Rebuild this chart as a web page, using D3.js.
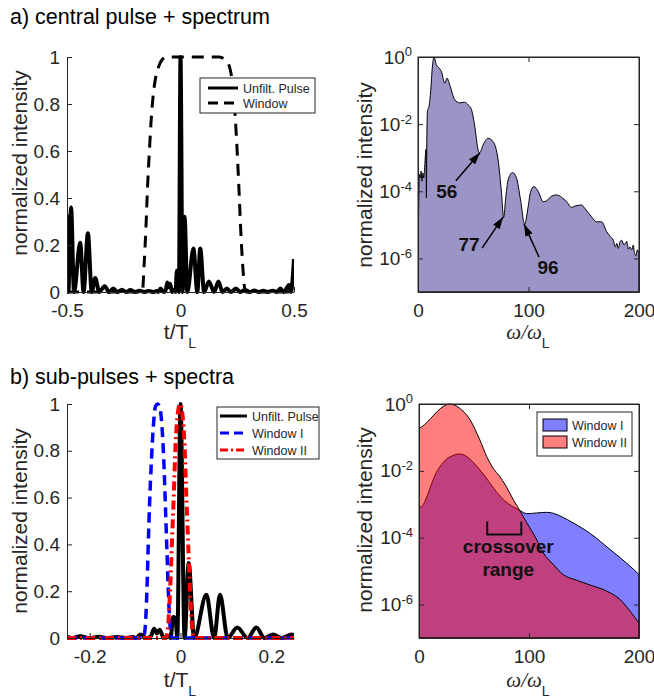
<!DOCTYPE html>
<html>
<head>
<meta charset="utf-8">
<script src="https://cdn.jsdelivr.net/npm/d3@7"></script>
<style>
body { margin: 0; background: #fff; }
svg { display: block; font-family: "Liberation Sans", Arial, sans-serif; }
</style>
</head>
<body>
<svg id="fig" width="654" height="698"></svg>
<script>
// ---- data ----
// unfiltered pulse, one period (t/T_L, normalized intensity)
var pulseT = [-0.500,-0.494,-0.482,-0.469,-0.442,-0.427,-0.408,-0.391,-0.376,-0.358,-0.334,-0.315,-0.296,-0.278,-0.258,-0.240,-0.221,-0.200,-0.180,-0.160,-0.140,-0.120,-0.105,-0.098,-0.088,-0.075,-0.066,-0.058,-0.052,-0.046,-0.037,-0.028,-0.022,-0.016,-0.011,-0.007,0.000,0.009,0.018,0.030,0.057,0.074,0.087,0.104,0.125,0.148,0.167,0.185,0.204,0.222,0.245,0.262,0.285,0.305,0.325,0.345,0.365,0.385,0.405,0.425,0.440,0.455,0.470,0.478,0.486,0.500];
var pulseI = [0.33,0,0.36,0,0.21,0,0.25,0,0.06,0,0.025,0,0.015,0,0.01,0,0.008,0,0.005,0,0.004,0,0.004,0,0.015,0,0.005,0.04,0.02,0.035,0,0.01,0,0.09,0.085,0,1.00,0,0.32,0,0.185,0,0.185,0,0.045,0,0.045,0,0.015,0,0.015,0,0.008,0,0.006,0,0.005,0,0.005,0,0.015,0,0.02,0.03,0,0.14];

// central window (panel a)
var windowT = [-0.5,-0.168,-0.160,-0.152,-0.145,-0.137,-0.130,-0.120,-0.108,-0.096,-0.080,-0.060,0.170,0.200,0.218,0.230,0.240,0.248,0.257,0.266,0.275,0.286,0.5];
var windowI = [0,0,0.12,0.28,0.45,0.6,0.72,0.84,0.92,0.96,0.99,1,1,0.985,0.95,0.88,0.76,0.63,0.45,0.25,0.1,0,0];

// sub-pulse windows (panel b)
var winOneT = [-0.25,-0.082,-0.078,-0.074,-0.071,-0.068,-0.064,-0.060,-0.055,-0.050,-0.045,-0.040,-0.036,-0.033,-0.030,-0.026,-0.022,-0.018,0.25];
var winOneI = [0,0,0.04,0.2,0.4,0.58,0.76,0.9,0.99,1.0,0.98,0.88,0.72,0.55,0.38,0.16,0.03,0,0];
var winTwoT = [-0.25,-0.032,-0.027,-0.023,-0.019,-0.015,-0.011,-0.006,-0.001,0.004,0.009,0.013,0.017,0.021,0.025,0.030,0.25];
var winTwoI = [0,0,0.06,0.2,0.4,0.6,0.82,0.96,1.0,0.96,0.82,0.6,0.4,0.2,0.06,0,0];

// spectrum of central pulse (omega/omega_L, normalized intensity)
var specW = [0,0.6,1.2,2,2.8,3.6,4.4,5.2,6,6.8,7.3,7.6,7.9,8.6,10,11.5,13,14.5,16.6,19,21.2,24.2,26.3,28.7,33.2,37.8,42.3,45.3,48.4,51.4,54.4,55.8,58.9,63.4,68,72.5,75.6,77.5,79.5,81.6,85.5,89.2,92.8,96.5,99.7,101.9,104.9,108.8,113.3,116.3,121,125.4,130,134.5,139,142,148,151,157,161.7,166.2,170.7,174,176.7,178.5,180,181.2,183,184.3,186.5,188.8,190.5,191.8,193.5,194.8,196,197.2,198.5,200];
var specI = [1.6e-6,3.2e-5,3.2e-4,2.5e-4,4.0e-4,2.0e-4,3.5e-4,2.5e-4,5.0e-4,1.3e-3,1.8e-3,6.3e-5,1.6e-3,2.5e-2,3.4e-2,1.0e-1,0.5,1,0.59,0.47,0.37,0.166,0.234,0.148,0.054,0.043,0.045,0.038,0.027,8.5e-3,1.7e-3,1.4e-3,2.4e-3,3.8e-3,3.0e-3,8.5e-4,8.7e-5,1.66e-5,6.9e-5,2.2e-4,3.6e-4,2.45e-4,5.5e-5,1.05e-5,3.5e-5,9.8e-5,1.38e-4,9.8e-5,4.9e-5,5.2e-5,7.2e-5,7.8e-5,6.6e-5,4.9e-5,3.3e-5,3.6e-5,3.9e-5,3.1e-5,1.74e-5,1.23e-5,1.23e-5,6.3e-6,4.5e-6,3.5e-6,2.2e-6,2.8e-6,2.0e-6,3.2e-6,3.5e-6,2.5e-6,3.2e-6,1.9e-6,2.2e-6,1.8e-6,2.5e-6,1.4e-6,1.2e-6,1.8e-6,1.4e-6];

// spectra of windowed sub-pulses
var specOneW = [0,4,8,13.6,22.7,31.7,37,44,50,59,68,77,86,91.5,98,107,116,122,130,140,150,160,170,183,192,200];
var specOneI = [7.9e-4,1.0e-3,2.0e-3,6.3e-3,1.9e-2,2.95e-2,3.2e-2,2.6e-2,1.7e-2,7.6e-3,3.0e-3,1.35e-3,8.3e-4,6.6e-4,5.25e-4,5.5e-4,5.75e-4,5.4e-4,4.2e-4,2.8e-4,1.78e-4,1.05e-4,5.6e-5,2.5e-5,1.4e-5,7.9e-6];
var specTwoW = [0,5,10.6,19.7,28,37.8,46,55,62,68,73,79,86,91.5,98,106,113,122,131,143,156,171,183,192,200];
var specTwoI = [0.186,0.24,0.37,0.74,1.0,0.71,0.355,0.089,0.025,0.0112,0.0071,0.00355,0.00132,6.6e-4,2.8e-4,1.0e-4,3.5e-5,1.6e-5,7.9e-6,5.4e-6,3.8e-6,2.5e-6,1.4e-6,6.3e-7,2.8e-7];

// ticks
var linTicks = [0,0.2,0.4,0.6,0.8,1];
var logTicks = [1e-6,1e-4,1e-2,1];
var tTicksA = [-0.5,0,0.5];
var tTicksB = [-0.2,0,0.2];
var wTicks = [0,100,200];

// annotations
var dipOrders = [56,77,96];
var dipLevels = [1.4e-3,1.7e-5,1.05e-5];
var crossoverRange = [62,93];

// ---- drawing ----
var svg = d3.select('#fig');
var ink = '#262626';
var tickFont = 19, labelFont = 21;
var defs = svg.append('defs');

defs.append('marker').attr('id', 'head')
    .attr('markerUnits', 'userSpaceOnUse')
    .attr('markerWidth', 12).attr('markerHeight', 8)
    .attr('refX', 12).attr('refY', 4).attr('orient', 'auto')
    .append('path').attr('d', 'M0,0 L12,4 L0,8 Z').attr('fill', '#000');

function makePanel(id, box, xDom, isLog) {
    var x = d3.scaleLinear().domain(xDom).range([box.l, box.r]);
    var y = isLog ? d3.scaleLog().domain([1e-7, 1]).range([box.b, box.t])
                  : d3.scaleLinear().domain([0, 1]).range([box.b, box.t]);
    defs.append('clipPath').attr('id', 'clip-' + id)
        .append('rect').attr('x', box.l).attr('y', box.t - 6)
        .attr('width', box.r - box.l).attr('height', box.b - box.t + 12);
    var g = svg.append('g').attr('clip-path', 'url(#clip-' + id + ')');
    return {x: x, y: y, box: box, g: g};
}

function styleAxis(g) {
    g.attr('font-size', tickFont).attr('font-family', '"Liberation Sans", Arial, sans-serif');
    g.select('.domain').attr('stroke', ink).attr('stroke-width', 1);
    g.selectAll('.tick line').attr('stroke', ink).attr('stroke-width', 1);
    g.selectAll('.tick text').attr('fill', ink);
}

function plain(d) { return String(d); }

function linearAxes(p, xt) {
    var gx = svg.append('g').attr('transform', 'translate(0,' + p.box.b + ')')
        .call(d3.axisBottom(p.x).tickValues(xt).tickSizeInner(-5).tickSizeOuter(0).tickPadding(12).tickFormat(plain));
    var gy = svg.append('g').attr('transform', 'translate(' + p.box.l + ',0)')
        .call(d3.axisLeft(p.y).tickValues(linTicks).tickSizeInner(-5).tickSizeOuter(0).tickPadding(7).tickFormat(plain));
    styleAxis(gx); styleAxis(gy);
}

function logAxes(p) {
    var gx = svg.append('g').attr('transform', 'translate(0,' + p.box.b + ')')
        .call(d3.axisBottom(p.x).tickValues(wTicks).tickSizeInner(-5).tickSizeOuter(0).tickPadding(12).tickFormat(plain));
    var gy = svg.append('g').attr('transform', 'translate(' + p.box.l + ',0)')
        .call(d3.axisLeft(p.y).tickValues(logTicks).tickSizeInner(-5).tickSizeOuter(0).tickPadding(6).tickFormat(function(){ return ''; }));
    var gt = svg.append('g').attr('transform', 'translate(0,' + p.box.t + ')')
        .call(d3.axisTop(p.x).tickValues(wTicks).tickSizeInner(-5).tickSizeOuter(0).tickFormat(''));
    var gr = svg.append('g').attr('transform', 'translate(' + p.box.r + ',0)')
        .call(d3.axisRight(p.y).tickValues(logTicks).tickSizeInner(-5).tickSizeOuter(0).tickFormat(''));
    [gx, gy, gt, gr].forEach(styleAxis);
    gy.selectAll('.tick text').each(function(d) {
        var t = d3.select(this);
        t.append('tspan').text('10');
        t.append('tspan').attr('dy', '-0.55em').attr('font-size', 13).text(String(Math.round(Math.log10(d))).replace('\u2212', '-'));
    });
}

function yLabel(x, y) {
    svg.append('text').attr('transform', 'translate(' + x + ',' + y + ') rotate(-90)')
        .attr('text-anchor', 'middle').attr('font-size', labelFont).attr('fill', ink)
        .text('normalized intensity');
}

function xLabel(cx, y, main, italic) {
    var t = svg.append('text').attr('x', cx).attr('y', y).attr('text-anchor', 'middle')
        .attr('fill', ink).attr('font-size', labelFont);
    var m = t.append('tspan').text(main);
    if (italic) m.attr('font-family', '"Liberation Serif", serif').attr('font-style', 'italic');
    t.append('tspan').attr('dy', 9).attr('font-size', 14).text('L');
}

function legend(x0, y0, w, h, rows) {
    var g = svg.append('g');
    g.append('rect').attr('x', x0).attr('y', y0).attr('width', w).attr('height', h)
        .attr('fill', '#fff').attr('stroke', ink).attr('stroke-width', 1);
    rows.forEach(function(r) {
        if (r.patch) {
            g.append('rect').attr('x', r.sx).attr('y', r.y - 6).attr('width', 24).attr('height', 12)
                .attr('fill', r.color).attr('fill-opacity', 0.5).attr('stroke', '#000').attr('stroke-width', 1);
        } else {
            g.append('line').attr('x1', r.sx).attr('x2', r.sx + r.len).attr('y1', r.y).attr('y2', r.y)
                .attr('stroke', r.color).attr('stroke-width', 3).attr('stroke-dasharray', r.dash || null);
        }
        g.append('text').attr('x', r.tx).attr('y', r.y + 4.5).attr('font-size', 12.5).attr('fill', ink).text(r.label);
    });
}

function pts(xs, ys) { return d3.zip(xs, ys); }

// ---------- a) left: central pulse ----------
var pA = makePanel('a1', {l: 67, r: 294, t: 57, b: 292}, [-0.5, 0.5], false);
linearAxes(pA, tTicksA);
var lineA = d3.line().x(function(d){ return pA.x(d[0]); }).y(function(d){ return pA.y(d[1]); }).curve(d3.curveMonotoneX);
pA.g.append('path').attr('d', lineA(pts(pulseT, pulseI)))
    .attr('fill', 'none').attr('stroke', '#000').attr('stroke-width', 4).attr('stroke-linejoin', 'round');
pA.g.append('path').attr('d', lineA(pts(windowT, windowI)))
    .attr('fill', 'none').attr('stroke', '#000').attr('stroke-width', 3).attr('stroke-dasharray', '12,8');
legend(200, 78, 115, 35, [
    {label: 'Unfilt. Pulse', color: '#000', sx: 208, len: 30, tx: 243, y: 88},
    {label: 'Window', color: '#000', dash: '10,6', sx: 208, len: 30, tx: 243, y: 103}
]);
yLabel(27, 163);
xLabel(180, 339, 't/T', false);

// ---------- a) right: spectrum ----------
var sA = makePanel('a2', {l: 418, r: 639, t: 57, b: 292}, [0, 200], true);
var areaA = d3.area().x(function(d){ return sA.x(d[0]); }).y0(sA.box.b).y1(function(d){ return sA.y(d[1]); }).curve(d3.curveMonotoneX);
sA.g.append('path').attr('d', areaA(pts(specW, specI)))
    .attr('fill', '#9a95c6').attr('stroke', '#000').attr('stroke-width', 1);
svg.append('rect').attr('x', sA.box.l).attr('y', sA.box.t).attr('width', sA.box.r - sA.box.l).attr('height', sA.box.b - sA.box.t)
    .attr('fill', 'none').attr('stroke', ink).attr('stroke-width', 1);
logAxes(sA);
yLabel(372, 175);
xLabel(528, 339, '\u03c9/\u03c9', true);

// arrows to spectral dips
var tailOff = [[-24, 28], [-21, 31], [15, 33]];
var textOff = [[-33, 45], [-34, 34], [24, 50]];
dipOrders.forEach(function(w, i) {
    var tx = sA.x(w), ty = sA.y(dipLevels[i]);
    svg.append('line').attr('x1', tx + tailOff[i][0]).attr('y1', ty + tailOff[i][1])
        .attr('x2', tx).attr('y2', ty).attr('stroke', '#000').attr('stroke-width', 1.5)
        .attr('marker-end', 'url(#head)');
    svg.append('text').attr('x', tx + textOff[i][0]).attr('y', ty + textOff[i][1])
        .attr('text-anchor', 'middle').attr('font-size', 19).attr('font-weight', 'bold').attr('fill', '#111')
        .text(String(w));
});

// ---------- b) left: sub-pulses ----------
var pB = makePanel('b1', {l: 67, r: 294, t: 404, b: 638}, [-0.25, 0.25], false);
linearAxes(pB, tTicksB);
var lineB = d3.line().x(function(d){ return pB.x(d[0]); }).y(function(d){ return pB.y(d[1]); }).curve(d3.curveMonotoneX);
pB.g.append('path').attr('d', lineB(pts(pulseT, pulseI)))
    .attr('fill', 'none').attr('stroke', '#000').attr('stroke-width', 4).attr('stroke-linejoin', 'round');
pB.g.append('path').attr('d', lineB(pts(winOneT, winOneI)))
    .attr('fill', 'none').attr('stroke', '#0000ff').attr('stroke-width', 3.5).attr('stroke-dasharray', '10,6');
pB.g.append('path').attr('d', lineB(pts(winTwoT, winTwoI)))
    .attr('fill', 'none').attr('stroke', '#ff0000').attr('stroke-width', 4).attr('stroke-dasharray', '9,4,2,4');
legend(217, 407, 102, 52, [
    {label: 'Unfilt. Pulse', color: '#000', sx: 220, len: 27, tx: 252, y: 416},
    {label: 'Window I', color: '#0000ff', dash: '9,5', sx: 220, len: 27, tx: 252, y: 433},
    {label: 'Window II', color: '#ff0000', dash: '8,3,2,3', sx: 220, len: 27, tx: 252, y: 450}
]);
yLabel(27, 521);
xLabel(180, 687, 't/T', false);

// ---------- b) right: sub-pulse spectra ----------
var sB = makePanel('b2', {l: 419, r: 639, t: 404, b: 638}, [0, 200], true);
var areaB = d3.area().x(function(d){ return sB.x(d[0]); }).y0(sB.box.b).y1(function(d){ return sB.y(d[1]); }).curve(d3.curveMonotoneX);
sB.g.append('path').attr('d', areaB(pts(specOneW, specOneI)))
    .attr('fill', '#0000ff').attr('fill-opacity', 0.5).attr('stroke', '#000').attr('stroke-width', 1);
sB.g.append('path').attr('d', areaB(pts(specTwoW, specTwoI)))
    .attr('fill', '#ff0000').attr('fill-opacity', 0.5).attr('stroke', '#000').attr('stroke-width', 1);
svg.append('rect').attr('x', sB.box.l).attr('y', sB.box.t).attr('width', sB.box.r - sB.box.l).attr('height', sB.box.b - sB.box.t)
    .attr('fill', 'none').attr('stroke', ink).attr('stroke-width', 1);
logAxes(sB);
legend(537, 412, 95, 44, [
    {label: 'Window I', color: '#0000ff', patch: true, sx: 543, tx: 572, y: 425},
    {label: 'Window II', color: '#ff0000', patch: true, sx: 543, tx: 572, y: 442}
]);
yLabel(372, 520);
xLabel(528, 687, '\u03c9/\u03c9', true);

// crossover bracket
var cx0 = sB.x(crossoverRange[0]), cx1 = sB.x(crossoverRange[1]);
var cyB = sB.y(1.25e-4);
svg.append('path').attr('d', 'M' + cx0 + ',' + (cyB - 13) + 'V' + cyB + 'H' + cx1 + 'V' + (cyB - 13))
    .attr('fill', 'none').attr('stroke', '#111').attr('stroke-width', 2);
var cmid = (cx0 + cx1) / 2 + 4;
svg.append('text').attr('x', cmid).attr('y', cyB + 19).attr('text-anchor', 'middle')
    .attr('font-size', 19).attr('font-weight', 'bold').attr('fill', '#111').text('crossover');
svg.append('text').attr('x', cmid).attr('y', cyB + 42).attr('text-anchor', 'middle')
    .attr('font-size', 19).attr('font-weight', 'bold').attr('fill', '#111').text('range');

// panel titles
svg.append('text').attr('x', 10).attr('y', 24).attr('font-size', 21.5).attr('fill', '#000').text('a) central pulse + spectrum');
svg.append('text').attr('x', 10).attr('y', 384).attr('font-size', 21.5).attr('fill', '#000').text('b) sub-pulses + spectra');
</script>
</body>
</html>
